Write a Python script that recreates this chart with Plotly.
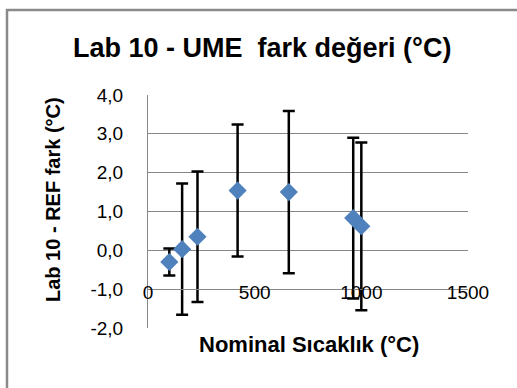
import plotly.graph_objects as go

# Data
nominal_temp = [100, 160, 232, 420, 660, 962, 1000]
ref_diff = [-0.30, 0.03, 0.35, 1.54, 1.50, 0.83, 0.62]
uncertainty = [0.35, 1.69, 1.68, 1.70, 2.09, 2.07, 2.16]

x_ticks = [0, 500, 1000, 1500]
x_tick_labels = ["0", "500", "1000", "1500"]
y_ticks = [-2, -1, 0, 1, 2, 3, 4]
y_tick_labels = ["-2,0", "-1,0", "0,0", "1,0", "2,0", "3,0", "4,0"]

W, H = 517, 388
L, R, T, B = 148, 468, 95, 328


def px(xp):
    return (xp - L) / (R - L)


def py(yp):
    return (B - yp) / (B - T)


FONT = "Liberation Sans, Arial, sans-serif"
GRID = "#878787"

fig = go.Figure()
fig.add_trace(go.Scatter(
    x=nominal_temp, y=ref_diff, mode="markers",
    marker=dict(symbol="diamond", size=14, color="#4F81BD"),
    error_y=dict(type="data", array=uncertainty, visible=True,
                 color="black", thickness=2.5, width=6),
    showlegend=False, cliponaxis=False,
))

fig.update_layout(
    width=W, height=H,
    margin=dict(l=L, r=W - R, t=T, b=H - B),
    paper_bgcolor="white", plot_bgcolor="white",
    font=dict(family=FONT, color="black", size=19),
    xaxis=dict(range=[0, 1500], tickvals=x_ticks, ticktext=x_tick_labels,
               showgrid=False, zeroline=False, showline=True,
               linecolor=GRID, linewidth=1, ticks="",
               anchor="free", position=1 / 6, ticklabelstandoff=-14,
               tickfont=dict(size=19)),
    yaxis=dict(range=[-2, 4], tickvals=y_ticks, ticktext=y_tick_labels,
               showgrid=True, gridcolor=GRID, gridwidth=1,
               zeroline=False, showline=True, linecolor=GRID, linewidth=1,
               ticks="", ticklabelstandoff=20, tickfont=dict(size=19)),
    shapes=[dict(type="path", xref="paper", yref="paper",
                 path=f"M {px(7)} {py(400)} L {px(7)} {py(10)} L {px(530)} {py(10)}",
                 line=dict(color="#8a8a8a", width=2.5))],
    annotations=[
        dict(text="<b>Lab 10 - UME  fark değeri (°C)</b>", xref="paper", yref="paper",
             x=px(262), y=py(48), showarrow=False, xanchor="center", yanchor="middle",
             font=dict(size=27)),
        dict(text="<b>Lab 10 - REF fark (°C)</b>", xref="paper", yref="paper",
             x=px(53), y=py(200), showarrow=False, textangle=-90,
             xanchor="center", yanchor="middle", font=dict(size=20)),
        dict(text="<b>Nominal Sıcaklık (°C)</b>", xref="paper", yref="paper",
             x=px(309), y=py(344), showarrow=False, xanchor="center", yanchor="middle",
             font=dict(size=22)),
    ],
)

fig.write_html("out.html")
